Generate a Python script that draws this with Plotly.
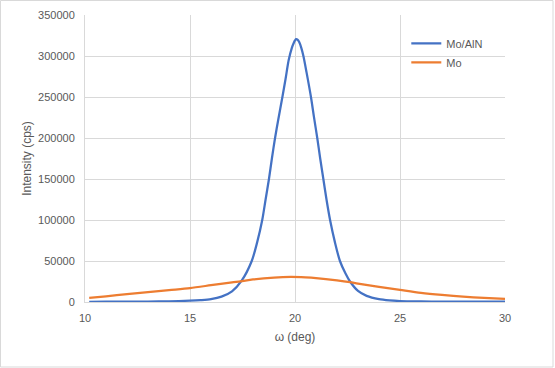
import plotly.graph_objects as go

# Mo/AlN rocking curve
x_mo_aln = [10.2, 11, 12, 13, 14, 15, 15.5, 16, 16.5, 17, 17.46, 17.94, 18.2, 18.44, 18.6, 18.76,
            18.9, 19.05, 19.2, 19.4, 19.55, 19.7, 19.85, 19.95, 20.0, 20.05, 20.12, 20.2, 20.3,
            20.4, 20.55, 20.76, 20.9, 21.06, 21.2, 21.35, 21.5, 21.67, 21.9, 22.14, 22.4, 22.62,
            23.0, 23.41, 24, 24.5, 25, 26, 27, 28, 29, 30]
y_mo_aln = [300, 350, 400, 550, 800, 1600, 2300, 3500, 6500, 13000, 26000, 50000, 73000, 100000,
            125000, 150000, 175000, 200000, 222000, 250000, 272000, 295000, 310000, 316500,
            319000, 320500, 320000, 317000, 310000, 300000, 280000, 250000, 226000, 200000,
            175000, 150000, 125000, 100000, 73000, 50000, 35000, 25000, 13500, 7500, 3500, 2000,
            1200, 700, 500, 400, 350, 300]

# Mo rocking curve
x_mo = [10.2, 11, 12, 13, 14, 15, 16, 17, 17.4, 18, 19, 19.8, 20.5, 21, 22, 22.62, 23, 24, 25,
        26, 27, 28, 29, 30]
y_mo = [5000, 7000, 9500, 12000, 14500, 17000, 20500, 24000, 25200, 27500, 29800, 30500, 30000,
        29200, 26500, 24300, 22500, 18500, 14800, 11200, 8600, 6500, 5000, 3800]

x_ticks = [10, 15, 20, 25, 30]
y_ticks = [0, 50000, 100000, 150000, 200000, 250000, 300000, 350000]

fig = go.Figure()
fig.add_trace(go.Scatter(x=x_mo_aln, y=y_mo_aln, mode="lines", name="Mo/AlN",
                         line=dict(color="#4472C4", width=2.25, shape="spline", smoothing=0.8)))
fig.add_trace(go.Scatter(x=x_mo, y=y_mo, mode="lines", name="Mo",
                         line=dict(color="#ED7D31", width=2.25, shape="spline", smoothing=0.8)))

font_family = "Liberation Sans, Arial, sans-serif"
fig.update_layout(
    width=555, height=368,
    margin=dict(l=85, r=50, t=15, b=66, autoexpand=False),
    paper_bgcolor="white", plot_bgcolor="white",
    font=dict(family=font_family, size=11, color="#595959"),
    showlegend=True,
    legend=dict(x=0.765, y=0.952, xanchor="left", yanchor="top", bgcolor="rgba(0,0,0,0)",
                font=dict(size=11, color="#595959"), tracegroupgap=0),
    xaxis=dict(range=[10, 30], tickvals=x_ticks, ticktext=[str(t) for t in x_ticks],
               showgrid=True, gridcolor="#d9d9d9", gridwidth=1, automargin=False,
               showline=True, linecolor="#d9d9d9", linewidth=1, zeroline=False,
               ticks="", ticklen=0, ticklabelstandoff=6,
               title=dict(text="ω (deg)", font=dict(size=12, color="#595959"), standoff=9)),
    yaxis=dict(range=[0, 350000], tickvals=y_ticks, ticktext=[str(t) for t in y_ticks],
               showgrid=True, gridcolor="#d9d9d9", gridwidth=1, automargin=False,
               showline=True, linecolor="#d9d9d9", linewidth=1, zeroline=False,
               ticks="", ticklen=0, ticklabelstandoff=7,
               title=dict(text="Intensity (cps)", font=dict(size=12, color="#595959"), standoff=3)),
    shapes=[dict(type="rect", xref="paper", yref="paper",
                 x0=-0.2012, x1=1.1143, y0=-0.2265, y1=1.0505,
                 line=dict(color="#d9d9d9", width=1), fillcolor="rgba(0,0,0,0)", layer="below")],
)

fig.write_html("out.html", config={"displayModeBar": False},
               post_script="document.body.style.margin='0';document.body.style.overflow='hidden';")
